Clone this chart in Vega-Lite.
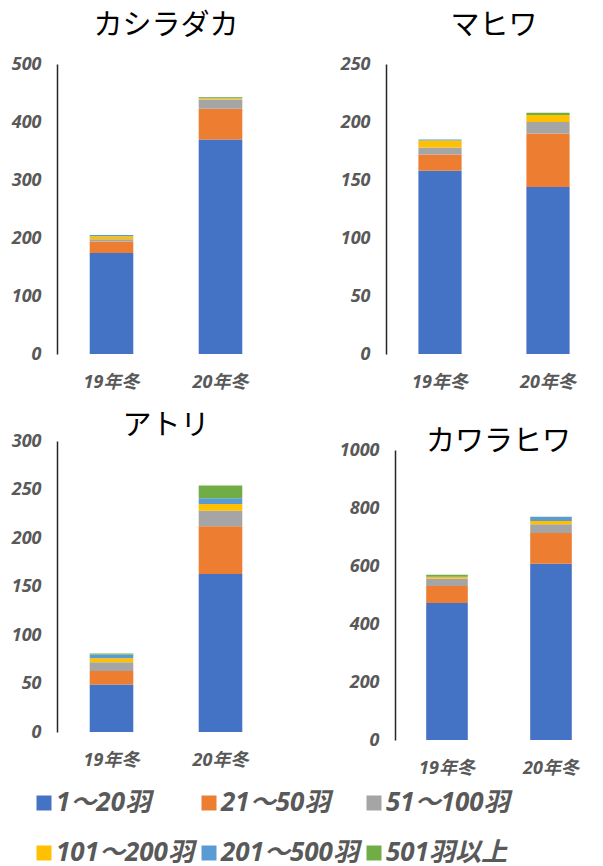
{
  "$schema": "https://vega.github.io/schema/vega-lite/v6.json",
  "background": "white",
  "padding": {"left": 11, "top": 12, "right": 0, "bottom": 0},
  "config": {
    "view": {"stroke": null},
    "font": "Noto Sans CJK JP",
    "axis": {
      "labelFont": "Open Sans, Noto Sans CJK JP",
      "labelFontWeight": "bold",
      "labelFontStyle": "italic",
      "labelColor": "#595959",
      "grid": false,
      "ticks": false
    },
    "axisY": {"domainColor": "#262626", "domainWidth": 1.5, "labelFontSize": 18, "labelPadding": 16, "format": "d"},
    "axisX": {"domain": false, "labelFontSize": 18, "labelPadding": 19, "labelAngle": 0},
    "title": {"fontSize": 29, "fontWeight": "normal", "color": "#000000", "font": "Noto Sans CJK JP"}
  },
  "datasets": {
    "d": [
      {"sp": "カシラダカ", "season": "19年冬", "size": "1～20羽", "n": 174},
      {"sp": "カシラダカ", "season": "19年冬", "size": "21～50羽", "n": 20},
      {"sp": "カシラダカ", "season": "19年冬", "size": "51～100羽", "n": 4},
      {"sp": "カシラダカ", "season": "19年冬", "size": "101～200羽", "n": 5},
      {"sp": "カシラダカ", "season": "19年冬", "size": "201～500羽", "n": 2},
      {"sp": "カシラダカ", "season": "19年冬", "size": "501羽以上", "n": 0},
      {"sp": "カシラダカ", "season": "20年冬", "size": "1～20羽", "n": 370},
      {"sp": "カシラダカ", "season": "20年冬", "size": "21～50羽", "n": 53},
      {"sp": "カシラダカ", "season": "20年冬", "size": "51～100羽", "n": 16},
      {"sp": "カシラダカ", "season": "20年冬", "size": "101～200羽", "n": 2},
      {"sp": "カシラダカ", "season": "20年冬", "size": "201～500羽", "n": 1},
      {"sp": "カシラダカ", "season": "20年冬", "size": "501羽以上", "n": 1},
      {"sp": "マヒワ", "season": "19年冬", "size": "1～20羽", "n": 158},
      {"sp": "マヒワ", "season": "19年冬", "size": "21～50羽", "n": 14},
      {"sp": "マヒワ", "season": "19年冬", "size": "51～100羽", "n": 6},
      {"sp": "マヒワ", "season": "19年冬", "size": "101～200羽", "n": 6},
      {"sp": "マヒワ", "season": "19年冬", "size": "201～500羽", "n": 1},
      {"sp": "マヒワ", "season": "19年冬", "size": "501羽以上", "n": 0},
      {"sp": "マヒワ", "season": "20年冬", "size": "1～20羽", "n": 144},
      {"sp": "マヒワ", "season": "20年冬", "size": "21～50羽", "n": 46},
      {"sp": "マヒワ", "season": "20年冬", "size": "51～100羽", "n": 10},
      {"sp": "マヒワ", "season": "20年冬", "size": "101～200羽", "n": 6},
      {"sp": "マヒワ", "season": "20年冬", "size": "201～500羽", "n": 0},
      {"sp": "マヒワ", "season": "20年冬", "size": "501羽以上", "n": 2},
      {"sp": "アトリ", "season": "19年冬", "size": "1～20羽", "n": 49},
      {"sp": "アトリ", "season": "19年冬", "size": "21～50羽", "n": 14},
      {"sp": "アトリ", "season": "19年冬", "size": "51～100羽", "n": 9},
      {"sp": "アトリ", "season": "19年冬", "size": "101～200羽", "n": 4},
      {"sp": "アトリ", "season": "19年冬", "size": "201～500羽", "n": 4},
      {"sp": "アトリ", "season": "19年冬", "size": "501羽以上", "n": 1},
      {"sp": "アトリ", "season": "20年冬", "size": "1～20羽", "n": 163},
      {"sp": "アトリ", "season": "20年冬", "size": "21～50羽", "n": 49},
      {"sp": "アトリ", "season": "20年冬", "size": "51～100羽", "n": 16},
      {"sp": "アトリ", "season": "20年冬", "size": "101～200羽", "n": 7},
      {"sp": "アトリ", "season": "20年冬", "size": "201～500羽", "n": 6},
      {"sp": "アトリ", "season": "20年冬", "size": "501羽以上", "n": 13},
      {"sp": "カワラヒワ", "season": "19年冬", "size": "1～20羽", "n": 472},
      {"sp": "カワラヒワ", "season": "19年冬", "size": "21～50羽", "n": 59},
      {"sp": "カワラヒワ", "season": "19年冬", "size": "51～100羽", "n": 25},
      {"sp": "カワラヒワ", "season": "19年冬", "size": "101～200羽", "n": 6},
      {"sp": "カワラヒワ", "season": "19年冬", "size": "201～500羽", "n": 3},
      {"sp": "カワラヒワ", "season": "19年冬", "size": "501羽以上", "n": 5},
      {"sp": "カワラヒワ", "season": "20年冬", "size": "1～20羽", "n": 608},
      {"sp": "カワラヒワ", "season": "20年冬", "size": "21～50羽", "n": 106},
      {"sp": "カワラヒワ", "season": "20年冬", "size": "51～100羽", "n": 30},
      {"sp": "カワラヒワ", "season": "20年冬", "size": "101～200羽", "n": 11},
      {"sp": "カワラヒワ", "season": "20年冬", "size": "201～500羽", "n": 14},
      {"sp": "カワラヒワ", "season": "20年冬", "size": "501羽以上", "n": 1}
    ]
  },
  "columns": 2,
  "spacing": {"row": 87, "column": 111},
  "bounds": "flush",
  "concat": [
    {
      "title": {"text": "カシラダカ", "offset": 14},
      "width": 218, "height": 290,
      "data": {"name": "d"},
      "transform": [{"filter": "datum.sp === 'カシラダカ'"}, {"calculate": "indexof(['1～20羽','21～50羽','51～100羽','101～200羽','201～500羽','501羽以上'], datum.size)", "as": "k"}],
      "mark": {"type": "bar"},
      "encoding": {
        "x": {"field": "season", "type": "nominal", "title": null, "scale": {"paddingInner": 0.6, "paddingOuter": 0.3}},
        "y": {"field": "n", "type": "quantitative", "stack": "zero", "title": null, "scale": {"domain": [0, 500]}, "axis": {"values": [0, 100, 200, 300, 400, 500]}},
        "order": {"field": "k", "type": "quantitative", "sort": "ascending"},
        "color": {"field": "size", "type": "nominal", "sort": ["1～20羽", "21～50羽", "51～100羽", "101～200羽", "201～500羽", "501羽以上"],
          "scale": {"domain": ["1～20羽", "21～50羽", "51～100羽", "101～200羽", "201～500羽", "501羽以上"], "range": ["#4472C4", "#ED7D31", "#A5A5A5", "#FFC000", "#5B9BD5", "#70AD47"]},
          "legend": {"orient": "none", "legendX": -26, "legendY": 726, "title": null, "columns": 3, "direction": "horizontal", "symbolType": "square", "symbolSize": 225, "symbolStrokeWidth": 0, "symbolOpacity": 1, "labelFont": "Open Sans, Noto Sans CJK JP", "labelFontSize": 26, "labelFontWeight": "bold", "labelFontStyle": "italic", "labelColor": "#595959", "labelOffset": -1, "labelLimit": 300, "rowPadding": 24, "columnPadding": 2}}
      }
    },
    {
      "title": {"text": "マヒワ", "offset": 14},
      "width": 216, "height": 290,
      "data": {"name": "d"},
      "transform": [{"filter": "datum.sp === 'マヒワ'"}, {"calculate": "indexof(['1～20羽','21～50羽','51～100羽','101～200羽','201～500羽','501羽以上'], datum.size)", "as": "k"}],
      "mark": {"type": "bar"},
      "encoding": {
        "x": {"field": "season", "type": "nominal", "title": null, "scale": {"paddingInner": 0.6, "paddingOuter": 0.3}},
        "y": {"field": "n", "type": "quantitative", "stack": "zero", "title": null, "scale": {"domain": [0, 250]}, "axis": {"values": [0, 50, 100, 150, 200, 250]}},
        "order": {"field": "k", "type": "quantitative", "sort": "ascending"},
        "color": {"field": "size", "type": "nominal", "sort": ["1～20羽", "21～50羽", "51～100羽", "101～200羽", "201～500羽", "501羽以上"]}
      }
    },
    {
      "title": {"text": "アトリ", "offset": -9},
      "width": 218, "height": 291,
      "data": {"name": "d"},
      "transform": [{"filter": "datum.sp === 'アトリ'"}, {"calculate": "indexof(['1～20羽','21～50羽','51～100羽','101～200羽','201～500羽','501羽以上'], datum.size)", "as": "k"}],
      "mark": {"type": "bar"},
      "encoding": {
        "x": {"field": "season", "type": "nominal", "title": null, "scale": {"paddingInner": 0.6, "paddingOuter": 0.3}},
        "y": {"field": "n", "type": "quantitative", "stack": "zero", "title": null, "scale": {"domain": [0, 300]}, "axis": {"values": [0, 50, 100, 150, 200, 250, 300]}},
        "order": {"field": "k", "type": "quantitative", "sort": "ascending"},
        "color": {"field": "size", "type": "nominal", "sort": ["1～20羽", "21～50羽", "51～100羽", "101～200羽", "201～500羽", "501羽以上"]}
      }
    },
    {
      "title": {"text": "カワラヒワ", "offset": -16, "dx": 4},
      "width": 217, "height": 299,
      "data": {"name": "d"},
      "transform": [{"filter": "datum.sp === 'カワラヒワ'"}, {"calculate": "indexof(['1～20羽','21～50羽','51～100羽','101～200羽','201～500羽','501羽以上'], datum.size)", "as": "k"}],
      "mark": {"type": "bar"},
      "encoding": {
        "x": {"field": "season", "type": "nominal", "title": null, "scale": {"paddingInner": 0.6, "paddingOuter": 0.3, "range": [9, 217]}},
        "y": {"field": "n", "type": "quantitative", "stack": "zero", "title": null, "scale": {"domain": [0, 1000], "range": [299, 9]}, "axis": {"values": [0, 200, 400, 600, 800, 1000], "offset": -9}},
        "order": {"field": "k", "type": "quantitative", "sort": "ascending"},
        "color": {"field": "size", "type": "nominal", "sort": ["1～20羽", "21～50羽", "51～100羽", "101～200羽", "201～500羽", "501羽以上"]}
      }
    }
  ]
}
